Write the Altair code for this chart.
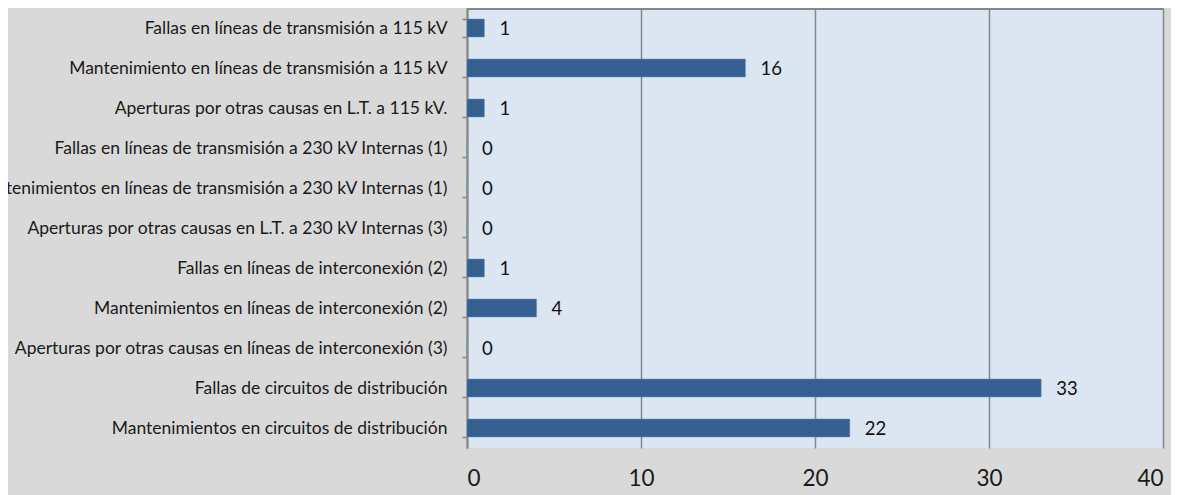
import altair as alt
import pandas as pd

categories = [
    "Fallas en líneas de transmisión a 115 kV",
    "Mantenimiento en líneas de transmisión a 115 kV",
    "Aperturas por otras causas en L.T. a 115 kV.",
    "Fallas en líneas de transmisión a 230 kV Internas (1)",
    "Mantenimientos en líneas de transmisión a 230 kV Internas (1)",
    "Aperturas por otras causas en L.T. a 230 kV Internas (3)",
    "Fallas en líneas de interconexión (2)",
    "Mantenimientos en líneas de interconexión (2)",
    "Aperturas por otras causas en líneas de interconexión (3)",
    "Fallas de circuitos de distribución ",
    "Mantenimientos en circuitos de distribución",
]
values = [1, 16, 1, 0, 0, 0, 1, 4, 0, 33, 22]
x_ticks = [0, 10, 20, 30, 40]

df = pd.DataFrame({"cat": categories, "val": values})

FONT = "Lato"
W, H = 696, 440

y_enc = alt.Y(
    "cat:N",
    sort=categories,
    title=None,
    scale=alt.Scale(paddingInner=0.55, paddingOuter=0.275),
    axis=alt.Axis(
        labelFont=FONT, labelFontSize=17.5, labelColor="#1a1a1a",
        labelPadding=15, labelLimit=0,
        tickBand="extent", ticks=True, tickSize=5, tickColor="#868686", tickWidth=1.5,
        domainColor="#868686", domainWidth=2, grid=False,
    ),
)
x_enc = alt.X(
    "val:Q",
    title=None,
    scale=alt.Scale(domain=[0, 40], nice=False),
    axis=alt.Axis(
        values=x_ticks, labelFont=FONT, labelFontSize=22.5, labelColor="#1a1a1a",
        labelPadding=19, ticks=False, domain=False,
        grid=True, gridColor="#868686", gridWidth=1.5,
    ),
)

bars = alt.Chart(df).mark_bar(color="#355f91", stroke="#6f8fb8", strokeWidth=0.5).encode(x=x_enc, y=y_enc)
labels = alt.Chart(df).mark_text(
    align="left", baseline="middle", dx=15, dy=1, font=FONT, fontSize=18.5, color="#111111"
).encode(x="val:Q", y=alt.Y("cat:N", sort=categories), text="val:Q")
top_line = alt.Chart(df).mark_rule(color="#868686", strokeWidth=1.5).encode(
    x=alt.value(0), x2=alt.value(W), y=alt.value(0.75)
)

chart = (
    alt.layer(bars, labels, top_line)
    .properties(
        width=W, height=H, background="#d9d9d9",
        autosize=alt.AutoSizeParams(type="none"),
        padding={"left": 459, "top": 0, "right": 8, "bottom": 47},
    )
    .configure_view(fill="#dce6f2", stroke=None)
)

chart.save("out.html", embed_options={"renderer": "svg", "actions": False})
